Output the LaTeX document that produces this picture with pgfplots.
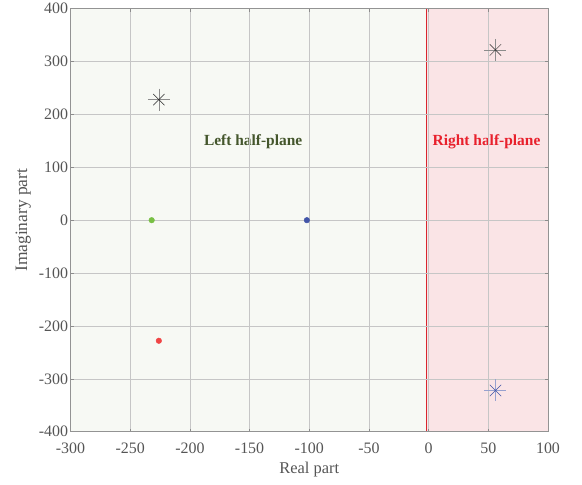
\documentclass[border=0pt]{standalone}
\usepackage{pgfplots}
\pgfplotsset{compat=1.18}
\usepackage{fontspec}
\setmainfont{Liberation Serif}
\definecolor{leftbg}{HTML}{F7F9F4}
\definecolor{rightbg}{HTML}{FAE4E6}
\definecolor{redline}{HTML}{D9262E}
\definecolor{lefttext}{HTML}{44562C}
\definecolor{righttext}{HTML}{E8202C}
\definecolor{gdot}{HTML}{78C044}
\definecolor{bdot}{HTML}{4255A8}
\definecolor{rdot}{HTML}{F04545}
\definecolor{tickgray}{HTML}{555555}
\begin{document}
\begin{tikzpicture}
\begin{axis}[
  scale only axis,
  width=477.5bp, height=423bp,
  xmin=-300, xmax=100, ymin=-400, ymax=400,
  xtick={-300,-250,...,100}, ytick={-400,-300,...,400},
  grid=major,
  major grid style={draw=gray!45, line width=0.6pt},
  axis line style={draw=gray!85, line width=0.6pt},
  tick style={draw=gray!90, line width=0.5pt},
  major tick length=3bp,
  tick align=inside,
  ticklabel style={font=\fontsize{16}{16}\selectfont, text=tickgray},
  xticklabel style={yshift=-8bp},
  yticklabel style={xshift=1bp},
  /pgf/number format/assume math mode=true,
  xlabel={Real part}, ylabel={Imaginary part},
  xlabel style={font=\fontsize{16.5}{16.5}\selectfont, text=tickgray, yshift=-1bp},
  ylabel style={font=\fontsize{17.5}{17.5}\selectfont, text=tickgray, yshift=1bp},
  axis on top,
  clip=true,
]
\fill[leftbg] (axis cs:-300,-400) rectangle (axis cs:-2,400);
\fill[rightbg] (axis cs:-2,-400) rectangle (axis cs:100,400);
\draw[redline, line width=1.3pt] (axis cs:-2,-400) -- (axis cs:-2,400);
\addplot[only marks, mark=+, mark size=11bp, mark options={draw=black!45, line width=0.45pt}] coordinates {(-226,228) (56,322)};
\addplot[only marks, mark=x, mark size=8bp, mark options={draw=black!85, line width=0.45pt}] coordinates {(-226,228) (56,322)};
\addplot[only marks, mark=+, mark size=11bp, mark options={draw=bdot!55, line width=0.45pt}] coordinates {(56,-322)};
\addplot[only marks, mark=x, mark size=8bp, mark options={draw=bdot, line width=0.45pt}] coordinates {(56,-322)};
\addplot[only marks, mark=*, mark size=2.8bp, color=gdot] coordinates {(-232,0)};
\addplot[only marks, mark=*, mark size=2.8bp, color=bdot] coordinates {(-102,0)};
\addplot[only marks, mark=*, mark size=2.8bp, color=rdot] coordinates {(-226,-228)};
\node[font=\bfseries\fontsize{15.5}{15.5}\selectfont, text=lefttext] at (axis cs:-147,148) {Left half-plane};
\node[font=\bfseries\fontsize{15.5}{15.5}\selectfont, text=righttext] at (axis cs:48.5,148) {Right half-plane};
\end{axis}
\path ([shift={(-70.5bp,-53bp)}]current axis.south west) rectangle ([shift={(34bp,8bp)}]current axis.north east);
\end{tikzpicture}
\end{document}
